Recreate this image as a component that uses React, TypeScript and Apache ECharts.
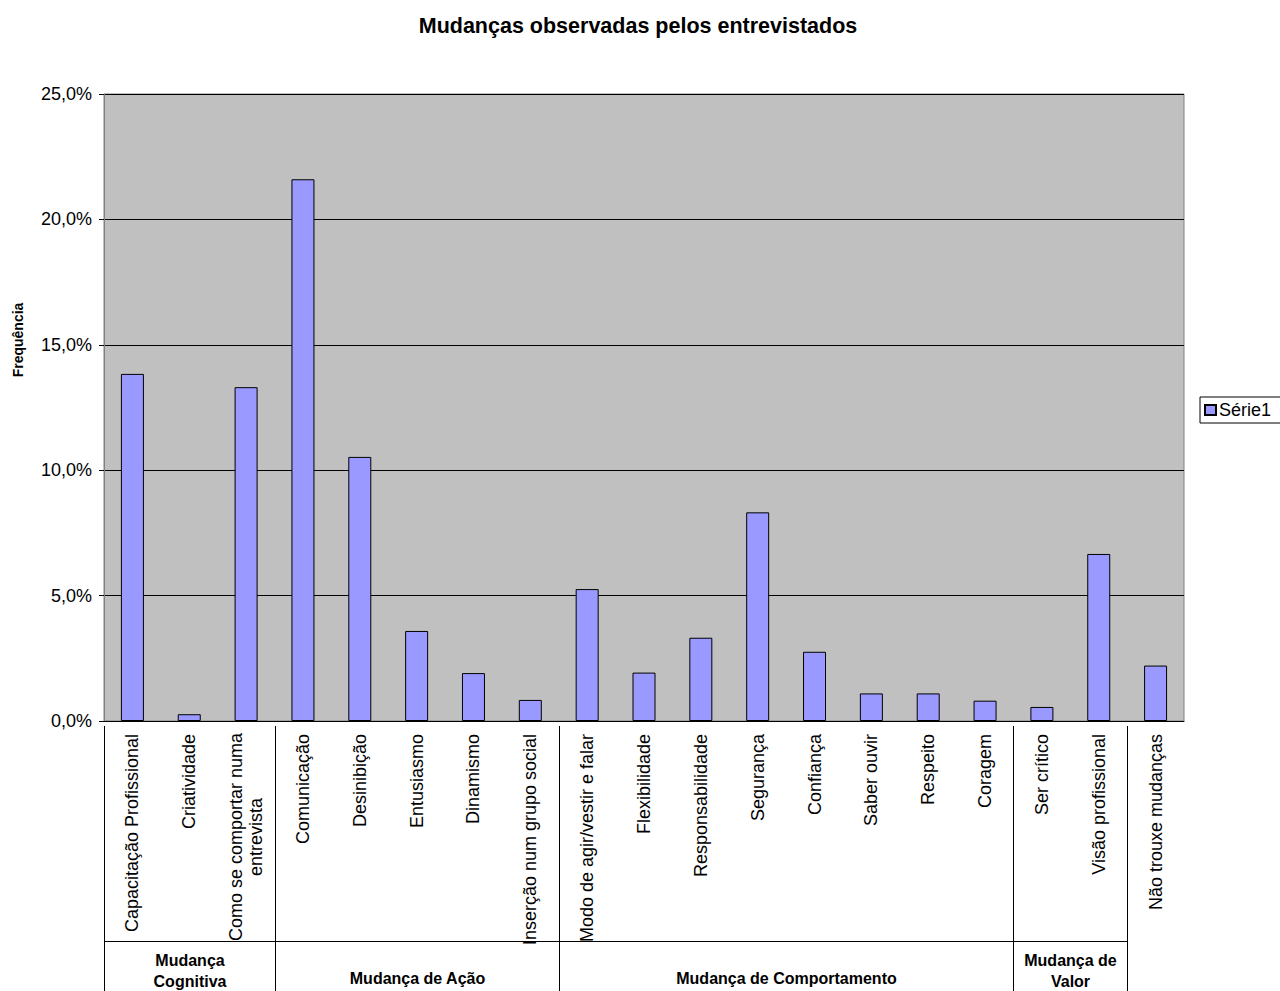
import React, { useEffect, useRef } from "react";
import * as echarts from "echarts";

const TITLE = "Mudanças observadas pelos entrevistados";
const Y_NAME = "Frequência";
const SERIES_NAME = "Série1";
const categories = [
  "Capacitação Profissional",
  "Criatividade",
  "Como se comportar numa\nentrevista",
  "Comunicação",
  "Desinibição",
  "Entusiasmo",
  "Dinamismo",
  "Inserção num grupo social",
  "Modo de agir/vestir e falar",
  "Flexibilidade",
  "Responsabilidade",
  "Segurança",
  "Confiança",
  "Saber ouvir",
  "Respeito",
  "Coragem",
  "Ser crítico",
  "Visão profissional",
  "Não trouxe mudanças",
];
const values = [13.84, 0.27, 13.31, 21.6, 10.53, 3.59, 1.91, 0.84, 5.26, 1.93, 3.32, 8.32, 2.76, 1.1, 1.1, 0.81, 0.56, 6.66, 2.21];
const groupNames = ["Mudança\nCognitiva", "Mudança de Ação", "Mudança de Comportamento", "Mudança de\nValor"];
const groupSizes = [3, 5, 8, 2];
const Y_MIN = 0;
const Y_MAX = 25;
const Y_STEP = 5;

const FONT = 'Arial, "Liberation Sans", sans-serif';

export default function App() {
  const ref = useRef<HTMLDivElement>(null);
  useEffect(() => {
    if (!ref.current) return;
    const chart = echarts.init(ref.current, undefined, { renderer: "svg" });
    chart.setOption({
      animation: false,
      backgroundColor: "#fff",
      title: {
        text: TITLE,
        left: 633,
        textAlign: "center",
        top: 10,
        textStyle: { fontSize: 21.5, fontWeight: "bold", color: "#000", fontFamily: FONT },
      },
      legend: {
        left: 1200,
        top: 397,
        orient: "vertical",
        backgroundColor: "#fff",
        borderColor: "#000",
        borderWidth: 1,
        borderRadius: 0,
        padding: [4, 30, 4, 4],
        itemWidth: 11,
        itemHeight: 10,
        itemGap: 4,
        icon: "rect",
        textStyle: { fontSize: 18, color: "#000", fontFamily: FONT, padding: [0, 0, 0, -2] },
        data: [SERIES_NAME],
      },
      grid: {
        left: 104,
        top: 94,
        width: 1080,
        height: 627,
        show: true,
        backgroundColor: "#C0C0C0",
        borderColor: "#808080",
        borderWidth: 1,
        containLabel: false,
      },
      xAxis: {
        type: "category",
        data: categories,
        axisLine: { lineStyle: { color: "#000", width: 1 } },
        axisTick: { length: 5, lineStyle: { color: "#000" } },
        axisLabel: {
          rotate: 90,
          interval: 0,
          margin: 13,
          fontSize: 18,
          color: "#000",
          fontFamily: FONT,
          lineHeight: 20,
          formatter: (v: string) =>
            v.includes("\n") ? v.split("\n").map((s) => `{w|${s}}`).join("\n") : v,
          rich: {
            w: { width: 206, align: "center", fontSize: 18, fontFamily: FONT, color: "#000", lineHeight: 20 },
          },
        },
      },
      yAxis: {
        type: "value",
        min: Y_MIN,
        max: Y_MAX,
        interval: Y_STEP,
        axisLine: { show: true, lineStyle: { color: "#808080" } },
        axisTick: { show: true, length: 5, lineStyle: { color: "#000" } },
        splitLine: { show: true, lineStyle: { color: "#000", width: 1 } },
        axisLabel: {
          margin: 12,
          fontSize: 18,
          color: "#000",
          fontFamily: FONT,
          formatter: (v: number) => v.toFixed(1).replace(".", ",") + "%",
        },
      },
      series: [
        {
          name: SERIES_NAME,
          type: "bar",
          data: values,
          barWidth: 23,
          itemStyle: { color: "#9999FF", borderColor: "#000", borderWidth: 1 },
        },
      ],
    });

    const c0 = chart.convertToPixel({ xAxisIndex: 0 }, 0) as number;
    const c1 = chart.convertToPixel({ xAxisIndex: 0 }, 1) as number;
    const step = c1 - c0;
    const bx = (k: number) => Math.round(c0 - step / 2 + k * step) + 0.5;

    const graphics: any[] = [];
    const bounds: number[] = [0];
    groupSizes.forEach((s) => bounds.push(bounds[bounds.length - 1] + s));
    const lineTop = 726;
    const lineBottom = 991;
    const hLineY = 941.5;
    bounds.forEach((b) => {
      graphics.push({
        type: "line",
        shape: { x1: bx(b), y1: lineTop, x2: bx(b), y2: lineBottom },
        style: { stroke: "#000", lineWidth: 1 },
      });
    });
    graphics.push({
      type: "line",
      shape: { x1: bx(0), y1: hLineY, x2: bx(bounds[bounds.length - 1]), y2: hLineY },
      style: { stroke: "#000", lineWidth: 1 },
    });
    groupNames.forEach((g, i) => {
      const xs = (bx(bounds[i]) + bx(bounds[i + 1])) / 2;
      const twoLine = g.includes("\n");
      graphics.push({
        type: "text",
        x: xs,
        y: twoLine ? 971 : 978,
        style: {
          text: g,
          fontSize: 16,
          fontWeight: "bold",
          fontFamily: FONT,
          fill: "#000",
          align: "center",
          verticalAlign: "middle",
          lineHeight: 21,
        },
      });
    });
    graphics.push({
      type: "text",
      x: 18,
      y: 340,
      rotation: Math.PI / 2,
      style: {
        text: Y_NAME,
        fontSize: 14,
        fontWeight: "bold",
        fontFamily: FONT,
        fill: "#000",
        align: "center",
        verticalAlign: "middle",
      },
    });
    chart.setOption({ graphic: graphics });

    return () => chart.dispose();
  }, []);
  return (
    <div
      ref={ref}
      style={{ position: "fixed", left: 0, top: 0, width: 1280, height: 991 }}
    />
  );
}
